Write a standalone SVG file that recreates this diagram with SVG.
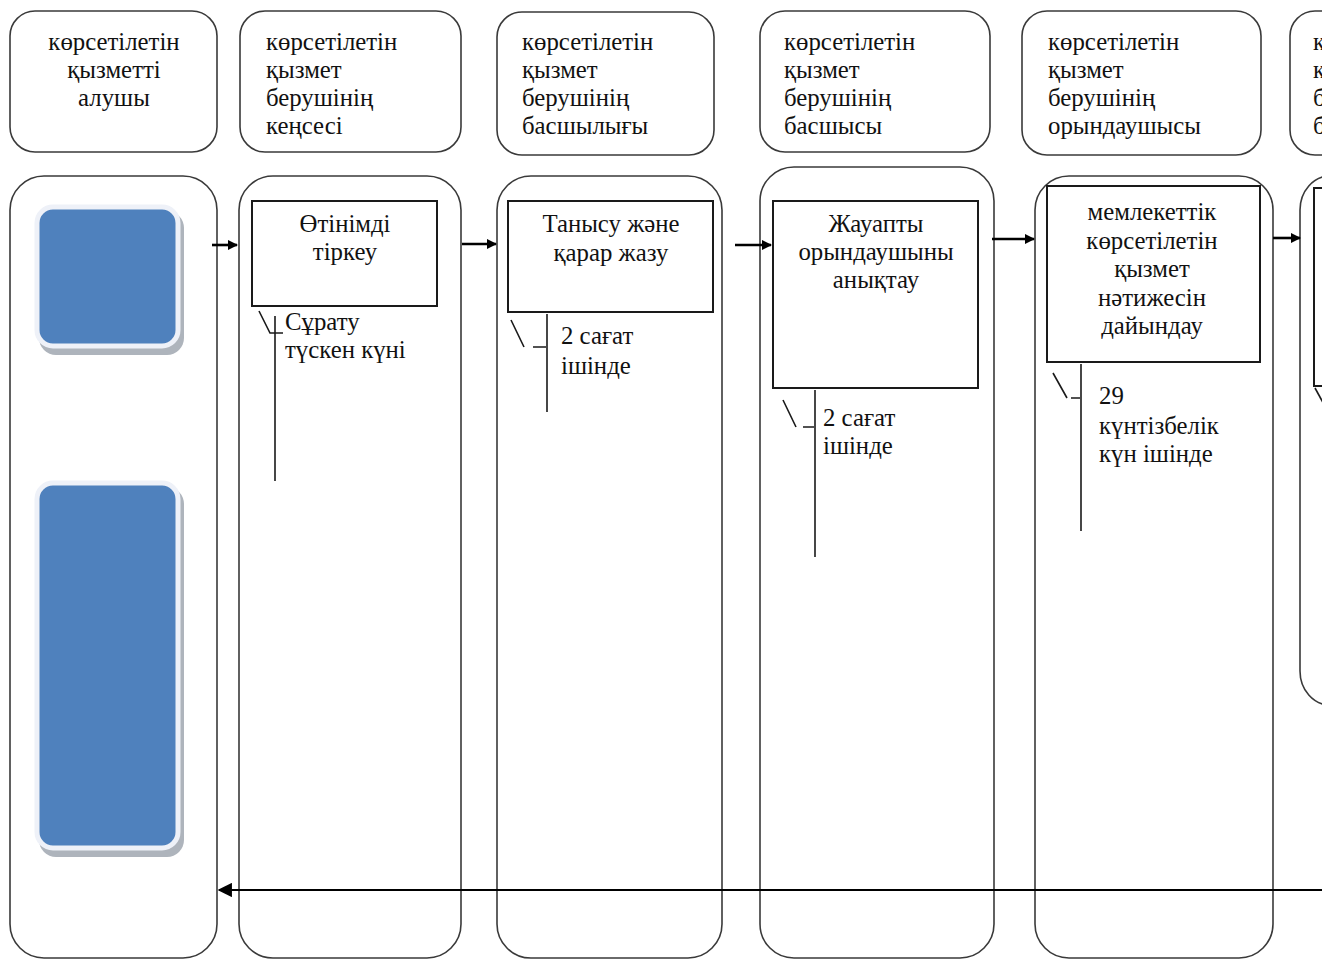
<svg xmlns="http://www.w3.org/2000/svg" width="1322" height="960" viewBox="0 0 1322 960">
<defs>
<style>
.hdr{fill:#fff;stroke:#3a3a3a;stroke-width:1.6}
.lane{fill:#fff;stroke:#3a3a3a;stroke-width:1.6}
.box{fill:#fff;stroke:#1a1a1a;stroke-width:2}
.t{font-family:"Liberation Serif","DejaVu Serif",serif;font-size:24.8px;fill:#111}
.c{text-anchor:middle}
.cl{fill:none;stroke:#1a1a1a;stroke-width:1.6}
.ar{fill:none;stroke:#000;stroke-width:2.6}
.rt{fill:none;stroke:#000;stroke-width:1.8}
.blue{fill:#4F81BD;stroke:#EEF1F8;stroke-width:5}
.sh{fill:#AEB4BC}
</style>
<marker id="ah" viewBox="0 0 10 10" refX="9" refY="5" markerWidth="4" markerHeight="4" orient="auto" markerUnits="strokeWidth">
<path d="M0,0 L10,5 L0,10 z" fill="#000"/>
</marker>
<marker id="ah2" viewBox="0 0 10 10" refX="9" refY="5" markerWidth="8" markerHeight="8" orient="auto" markerUnits="strokeWidth">
<path d="M0,0 L10,5 L0,10 z" fill="#000"/>
</marker>
</defs>

<g id="lanes">
<rect class="lane" x="10" y="176" width="207" height="782" rx="34"/>
<rect class="lane" x="239" y="176" width="222" height="782" rx="34"/>
<rect class="lane" x="497" y="176" width="225" height="782" rx="34"/>
<rect class="lane" x="760" y="167" width="234" height="791" rx="34"/>
<rect class="lane" x="1035" y="176" width="238" height="782" rx="34"/>
<rect class="lane" x="1300" y="176" width="60" height="529" rx="34"/>
</g>

<g id="header-1">
<rect class="hdr" x="10" y="11" width="207" height="141" rx="25"/>
<text class="t c" x="114" y="50">көрсетілетін</text>
<text class="t c" x="114" y="78">қызметті</text>
<text class="t c" x="114" y="106">алушы</text>
</g>
<g id="header-2">
<rect class="hdr" x="240" y="11" width="221" height="141" rx="25"/>
<text class="t" x="266" y="50">көрсетілетін</text>
<text class="t" x="266" y="78">қызмет</text>
<text class="t" x="266" y="106">берушінің</text>
<text class="t" x="266" y="134">кеңсесі</text>
</g>
<g id="header-3">
<rect class="hdr" x="497" y="12" width="217" height="143" rx="25"/>
<text class="t" x="522" y="50">көрсетілетін</text>
<text class="t" x="522" y="78">қызмет</text>
<text class="t" x="522" y="106">берушінің</text>
<text class="t" x="522" y="134">басшылығы</text>
</g>
<g id="header-4">
<rect class="hdr" x="760" y="11" width="230" height="141" rx="25"/>
<text class="t" x="784" y="50">көрсетілетін</text>
<text class="t" x="784" y="78">қызмет</text>
<text class="t" x="784" y="106">берушінің</text>
<text class="t" x="784" y="134">басшысы</text>
</g>
<g id="header-5">
<rect class="hdr" x="1022" y="11" width="239" height="144" rx="25"/>
<text class="t" x="1048" y="50">көрсетілетін</text>
<text class="t" x="1048" y="78">қызмет</text>
<text class="t" x="1048" y="106">берушінің</text>
<text class="t" x="1048" y="134">орындаушысы</text>
</g>
<g id="header-6">
<rect class="hdr" x="1290" y="11" width="80" height="144" rx="25"/>
<text class="t" x="1313" y="50">к</text>
<text class="t" x="1313" y="78">қ</text>
<text class="t" x="1313" y="106">б</text>
<text class="t" x="1313" y="134">б</text>
</g>

<g id="start-top">
<rect class="sh" x="39" y="211" width="145" height="144" rx="17"/>
<rect class="blue" x="37" y="207" width="141" height="139" rx="16"/>
</g>
<g id="end-bottom">
<rect class="sh" x="39" y="487" width="145" height="370" rx="17"/>
<rect class="blue" x="37" y="483" width="141" height="365" rx="16"/>
</g>

<g id="step-1">
<rect class="box" x="252" y="201" width="185" height="105"/>
<text class="t c" x="345" y="232">Өтінімді</text>
<text class="t c" x="345" y="260">тіркеу</text>
<path class="cl" d="M275,316 V481 M259,311 L270,333 H283"/>
<text class="t" x="285" y="330">Сұрату</text>
<text class="t" x="285" y="358">түскен күні</text>
</g>
<g id="step-2">
<rect class="box" x="508" y="201" width="205" height="111"/>
<text class="t c" x="611" y="232">Танысу және</text>
<text class="t c" x="611" y="261">қарар жазу</text>
<path class="cl" d="M547,314 V412 M511,320 L524,347 M533,347 H546"/>
<text class="t" x="561" y="344">2 сағат</text>
<text class="t" x="561" y="374">ішінде</text>
</g>
<g id="step-3">
<rect class="box" x="773" y="201" width="205" height="187"/>
<text class="t c" x="876" y="232">Жауапты</text>
<text class="t c" x="876" y="260">орындаушыны</text>
<text class="t c" x="876" y="288">анықтау</text>
<path class="cl" d="M815,390 V557 M783,400 L796,427 M803,427 H814"/>
<text class="t" x="823" y="426">2 сағат</text>
<text class="t" x="823" y="454">ішінде</text>
</g>
<g id="step-4">
<rect class="box" x="1047" y="186" width="213" height="176"/>
<text class="t c" x="1152" y="220">мемлекеттік</text>
<text class="t c" x="1152" y="249">көрсетілетін</text>
<text class="t c" x="1152" y="277">қызмет</text>
<text class="t c" x="1152" y="306">нәтижесін</text>
<text class="t c" x="1152" y="334">дайындау</text>
<path class="cl" d="M1081,364 V531 M1053,373 L1067,398 M1071,398 H1080"/>
<text class="t" x="1099" y="404">29</text>
<text class="t" x="1099" y="434">күнтізбелік</text>
<text class="t" x="1099" y="462">күн ішінде</text>
</g>
<g id="step-5">
<rect class="box" x="1314" y="188" width="60" height="198"/>
<path class="cl" d="M1315,388 L1326,408"/>
</g>

<g id="connectors">
<line class="ar" x1="212" y1="245" x2="237" y2="245" marker-end="url(#ah)"/>
<line class="ar" x1="462" y1="244" x2="496" y2="244" marker-end="url(#ah)"/>
<line class="ar" x1="735" y1="245" x2="771" y2="245" marker-end="url(#ah)"/>
<line class="ar" x1="992" y1="239" x2="1034" y2="239" marker-end="url(#ah)"/>
<line class="ar" x1="1273" y1="238" x2="1300" y2="238" marker-end="url(#ah)"/>
<line class="rt" x1="1322" y1="890" x2="219" y2="890" marker-end="url(#ah2)"/>
</g>
</svg>
